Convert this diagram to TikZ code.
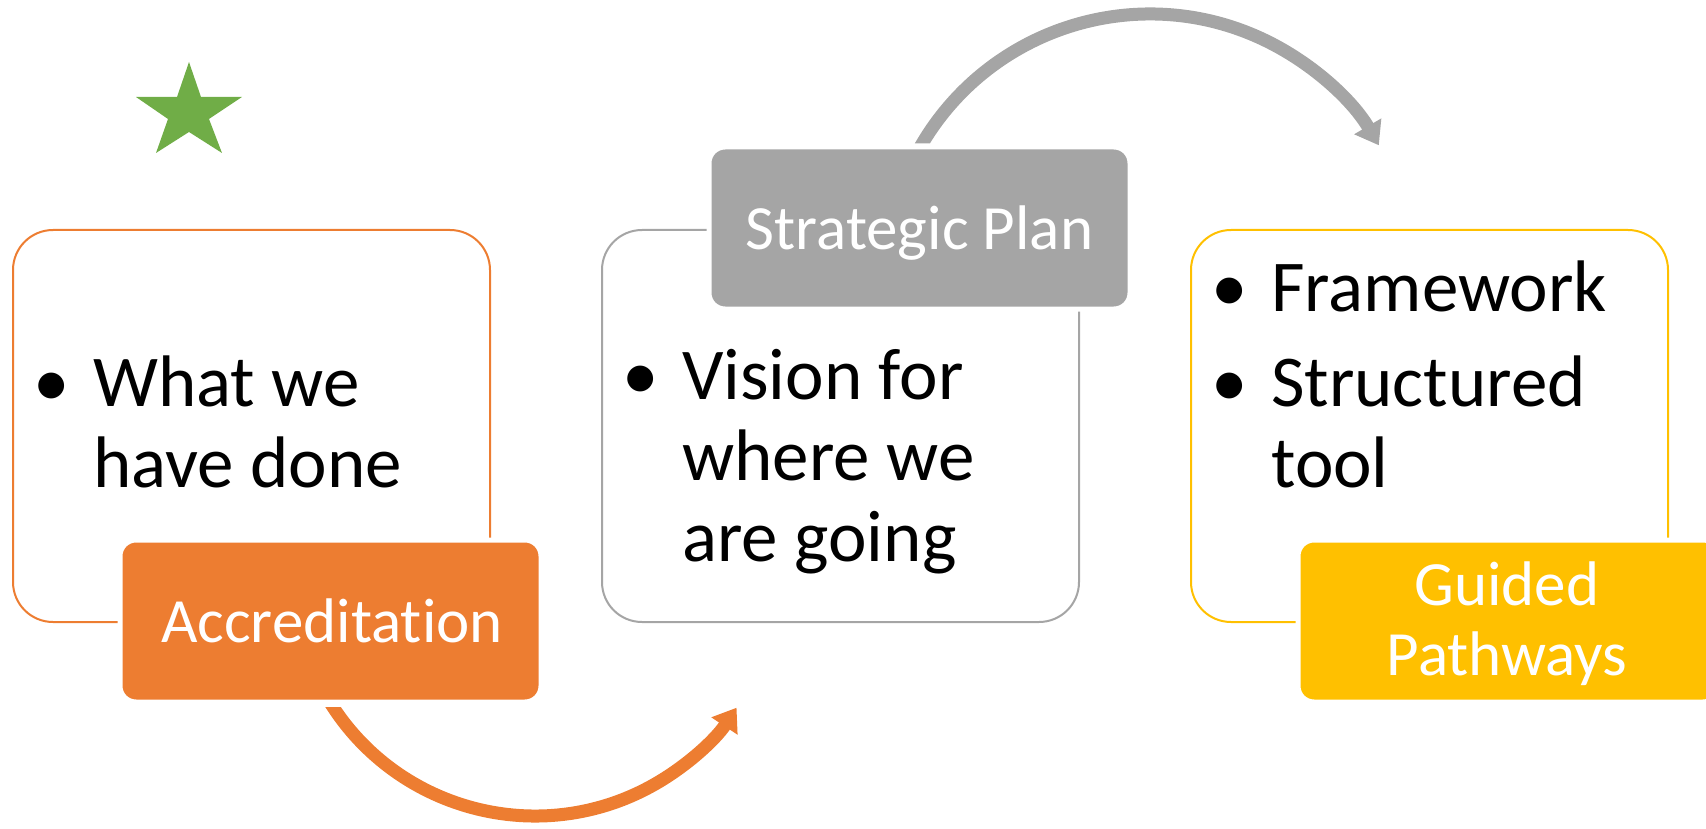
\documentclass[tikz,border=0pt]{standalone}
\usepackage{fontspec}
\setmainfont[Ligatures={NoCommon}]{Carlito}
\usetikzlibrary{arrows.meta}
\definecolor{accorange}{HTML}{ED7D31}
\definecolor{accgray}{HTML}{A5A5A5}
\definecolor{accyellow}{HTML}{FFC000}
\definecolor{stargreen}{HTML}{70AD47}
\begin{document}
\begin{tikzpicture}[x=1pt,y=-1pt,
  outlinebox/.style={draw, line width=2pt, rounded corners=40pt, minimum width=477pt, minimum height=392pt, inner sep=0pt, fill=white},
  labelbox/.style={draw=white, line width=5pt, rounded corners=16pt, minimum width=421pt, minimum height=162pt, inner sep=0pt},
  bodytext/.style={anchor=base west, inner sep=0pt, font=\fontsize{73}{81}\selectfont},
  bulletmark/.style={anchor=base, inner sep=0pt, font=\fontsize{73}{81}\selectfont},
  labeltext/.style={anchor=base, inner sep=0pt, text=white, font=\fontsize{63}{70}\selectfont},
  flowarrow/.style={line width=13pt, -{Triangle[width=30pt,length=22pt]}},
]
\useasboundingbox (0,0) rectangle (1706,829);

% outline boxes
\node[outlinebox, draw=accorange] (box1) at (251.5,426) {};
\node[outlinebox, draw=accgray] (box2) at (840.5,426) {};
\node[outlinebox, draw=accyellow] (box3) at (1429.5,426) {};

% label boxes
\node[labelbox, fill=accorange] (lab1) at (330.5,621) {};
\node[labelbox, fill=accgray] (lab2) at (919.5,228) {};
\node[labelbox, fill=accyellow] (lab3) at (1508.5,621) {};

% label texts
\node[labeltext] (lab1t) at (332,642) {Accreditation};
\node[labeltext] (lab2t) at (919.5,250) {Strategic Plan};
\node[labeltext] (lab3ta) at (1507,605) {Guided};
\node[labeltext] (lab3tb) at (1507,675) {Pathways};

% box 1 text
\node[bulletmark] (b1m) at (52,406) {•};
\node[bodytext] (b1l1) at (93,406) {What we};
\node[bodytext] (b1l2) at (93,487) {have done};

% box 2 text
\node[bulletmark] (b2m) at (641,399) {•};
\node[bodytext] (b2l1) at (682,399) {Vision for};
\node[bodytext] (b2l2) at (682,480) {where we};
\node[bodytext] (b2l3) at (682,561) {are going};

% box 3 text
\node[bulletmark] (b3m1) at (1230,312) {•};
\node[bodytext] (b3l1) at (1271,312) {Framework};
\node[bulletmark] (b3m2) at (1230,406) {•};
\node[bodytext] (b3l2) at (1271,406) {Structured};
\node[bodytext] (b3l3) at (1271,487) {tool};

% orange arc arrow
\begin{scope}
  \clip (0,707) rectangle (600,829) (600,0) rectangle (1706,829);
  \coordinate (ostart) at (325.7,695.15);
  \draw[flowarrow, accorange] (ostart) arc[start angle=150, end angle=33.5, radius=241.7];
\end{scope}

% gray arc arrow
\begin{scope}
  \clip (0,0) rectangle (1000,143.5) (1000,0) rectangle (1706,829);
  \coordinate (gstart) at (913.9,158.7);
  \draw[flowarrow, accgray] (gstart) arc[start angle=207, end angle=329.7, radius=265];
\end{scope}

% star
\fill[stargreen] (189,62) -- (201,97) -- (242,97) -- (209,119) -- (222,153) -- (189,132) -- (156,153) -- (168,119) -- (136,97) -- (177,97) -- cycle;
\end{tikzpicture}
\end{document}
